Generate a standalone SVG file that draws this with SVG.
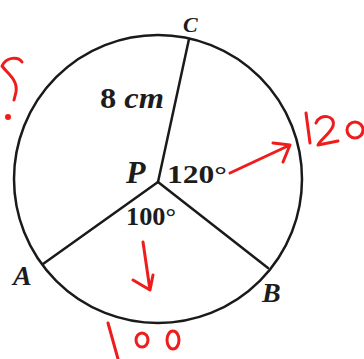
<svg xmlns="http://www.w3.org/2000/svg" width="364" height="359" viewBox="0 0 364 359">
<style>
.ln{fill:none;stroke:#1a1a1a;stroke-width:2.5;stroke-linecap:round}
.lbl{font-family:"Liberation Serif","DejaVu Serif",serif;font-weight:bold;font-style:italic;fill:#1c1c1c}
.num{font-family:"Liberation Serif","DejaVu Serif",serif;font-weight:bold;fill:#1c1c1c}
.red{fill:none;stroke:#ee1c1c;stroke-width:3;stroke-linecap:round;stroke-linejoin:round}
</style>
<rect width="364" height="359" fill="#ffffff"/>
<g id="circle">
<circle class="ln" cx="158" cy="179" r="144"/>
</g>
<g id="connectors">
<line class="ln" x1="158" y1="182" x2="189" y2="39"/>
<line class="ln" x1="158" y1="182" x2="43" y2="264"/>
<line class="ln" x1="158" y1="182" x2="268" y2="268"/>
</g>
<g id="labels">
<text class="lbl" x="183" y="32" font-size="22">C</text>
<text x="100" y="108" font-size="29" textLength="64" lengthAdjust="spacingAndGlyphs"><tspan class="num">8 </tspan><tspan class="lbl">cm</tspan></text>
<text class="lbl" x="126" y="183" font-size="32">P</text>
<text class="num" x="167" y="183" font-size="25" textLength="60" lengthAdjust="spacingAndGlyphs">120°</text>
<text class="num" x="126" y="225" font-size="25" textLength="50" lengthAdjust="spacingAndGlyphs">100°</text>
<text class="lbl" x="13" y="285" font-size="28">A</text>
<text class="lbl" x="262" y="302" font-size="28">B</text>
</g>
<g id="annotations">
<path class="red" d="M22 62 C18 56 6 57 2 66 C8 74 18 80 16 92 L14 100"/>
<circle cx="8" cy="117" r="3" fill="#ee1c1c"/>
<path class="red" d="M230 173 L290 145 M273 143 L290 145 L283 162"/>
<path class="red" d="M306 113 L310 143"/>
<path class="red" d="M316 123 C320 113 336 115 333 126 C330 134 320 140 318 145 L338 141"/>
<ellipse class="red" cx="355" cy="130" rx="8" ry="8"/>
<path class="red" d="M143 242 L150 290 M133 280 L150 290 L153 275"/>
<path class="red" d="M108 323 L118 359"/>
<ellipse class="red" cx="142" cy="340" rx="6" ry="7"/>
<ellipse class="red" cx="173" cy="340" rx="6" ry="9"/>
</g>
</svg>
